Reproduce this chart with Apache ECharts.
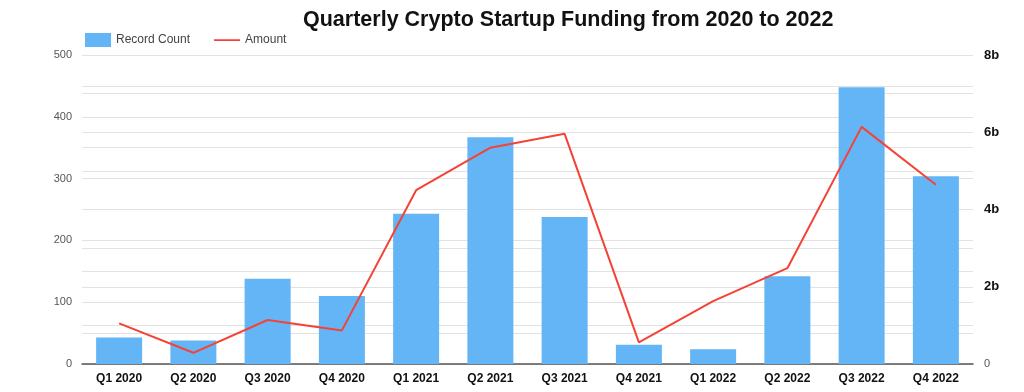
<!DOCTYPE html>
<html><head><meta charset="utf-8">
<script src="https://cdn.jsdelivr.net/npm/echarts@6/dist/echarts.min.js"></script>
<style>html,body{margin:0;padding:0;background:#fff}#c{width:1024px;height:392px}</style>
</head><body><div id="c"></div>
<script>
const categories = ['Q1 2020','Q2 2020','Q3 2020','Q4 2020','Q1 2021','Q2 2021','Q3 2021','Q4 2021','Q1 2022','Q2 2022','Q3 2022','Q4 2022'];
const recordCount = [43, 38, 138, 110, 243, 367, 238, 31, 24, 142, 448, 304];
const amount = [1.05e9, 0.29e9, 1.14e9, 0.87e9, 4.5e9, 5.6e9, 5.96e9, 0.56e9, 1.63e9, 2.48e9, 6.14e9, 4.64e9];
const leftTicks = [0, 100, 200, 300, 400, 500];
const rightTicks = ['0', '2b', '4b', '6b', '8b'];

const chart = echarts.init(document.getElementById('c'));
const font = 'Liberation Sans, Arial, sans-serif';
const lineIcon = 'path://M0,6.3 L26,6.3 L26,7.9 L0,7.9 Z M0,0 L0.01,0 L0.01,0.01 Z M26,14 L25.99,14 L25.99,13.99 Z';
chart.setOption({
  animation: false,
  title: {
    text: 'Quarterly Crypto Startup Funding from 2020 to 2022',
    left: 298, top: 4,
    textStyle: {fontFamily: font, fontSize: 21.5, fontWeight: 'bold', color: '#111'}
  },
  legend: {
    left: 80, top: 28, itemWidth: 26, itemHeight: 14, itemGap: 24,
    textStyle: {fontFamily: font, fontSize: 12, color: '#444'},
    data: [{name: 'Record Count', icon: 'rect'}, {name: 'Amount', icon: lineIcon}]
  },
  grid: {left: 82, right: 51, top: 55, bottom: 28, containLabel: false},
  xAxis: {
    type: 'category', data: categories,
    axisLine: {lineStyle: {color: '#555', width: 1.5}},
    axisTick: {show: false},
    axisLabel: {fontFamily: font, fontSize: 12, fontWeight: 'bold', color: '#111', margin: 9}
  },
  yAxis: [{
    type: 'value', min: 0, max: 500, interval: 50,
    axisLine: {show: false}, axisTick: {show: false},
    splitLine: {lineStyle: {color: '#e2e2e2', width: 1}},
    axisLabel: {fontFamily: font, fontSize: 11, color: '#555', margin: 10,
      formatter: v => leftTicks.includes(v) ? String(v) : ''}
  }, {
    type: 'value', min: 0, max: 8e9, interval: 1e9,
    axisLine: {show: false}, axisTick: {show: false},
    splitLine: {lineStyle: {color: '#e2e2e2', width: 1}},
    axisLabel: {margin: 11,
      formatter: v => {
        const i = Math.round(v / 1e9);
        if (i % 2) return '';
        const t = rightTicks[i / 2];
        return i === 0 ? '{z|' + t + '}' : '{b|' + t + '}';
      },
      rich: {
        z: {fontFamily: font, fontSize: 11, color: '#555'},
        b: {fontFamily: font, fontSize: 13, fontWeight: 'bold', color: '#111'}
      }
    }
  }],
  series: [{
    name: 'Record Count', type: 'bar', data: recordCount, yAxisIndex: 0,
    barWidth: 46, itemStyle: {color: '#64b5f6'}
  }, {
    name: 'Amount', type: 'line', data: amount, yAxisIndex: 1,
    symbol: 'none', lineStyle: {color: '#f44336', width: 2}, itemStyle: {color: '#f44336'}
  }]
});
</script></body></html>
